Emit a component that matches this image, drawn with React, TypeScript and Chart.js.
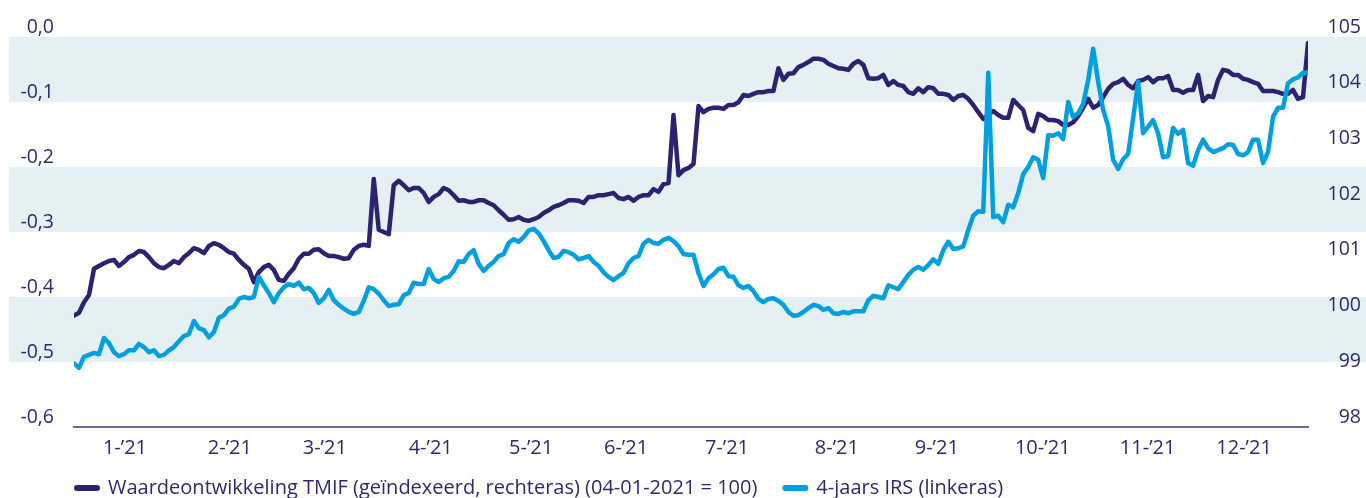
import React, { useEffect, useRef } from "react";
import { Chart, registerables } from "chart.js";

Chart.register(...registerables);

const TMIF_LABEL = "Waardeontwikkeling TMIF (geïndexeerd, rechteras) (04-01-2021 = 100)";
const IRS_LABEL = "4-jaars IRS (linkeras)";

const MONTH_LABELS = ["1-’21", "2-’21", "3-’21", "4-’21", "5-’21", "6-’21", "7-’21", "8-’21", "9-’21", "10-’21", "11-’21", "12-’21"];
// sample index under each month label
const MONTH_TICK_INDEX = [10.2, 31.2, 50.2, 71.4, 91.5, 110.5, 130.7, 152.7, 172.7, 193.9, 214.9, 234.2];

const BAND_RANGES = [[0, -0.1], [-0.2, -0.3], [-0.4, -0.5]];

// Waardeontwikkeling TMIF (right axis)
const TMIF = [
  100.00, 100.05, 100.24, 100.37, 100.84, 100.89, 100.94, 100.98, 101.00, 100.89,
  100.96, 101.05, 101.09, 101.16, 101.14, 101.05, 100.94, 100.87, 100.85, 100.91,
  100.98, 100.94, 101.05, 101.12, 101.21, 101.18, 101.12, 101.25, 101.30, 101.27,
  101.21, 101.14, 101.11, 101.00, 100.91, 100.84, 100.60, 100.78, 100.87, 100.91,
  100.82, 100.64, 100.62, 100.75, 100.85, 101.02, 101.11, 101.11, 101.18, 101.19,
  101.12, 101.07, 101.07, 101.05, 101.02, 101.03, 101.18, 101.25, 101.27, 101.25,
  102.45, 101.54, 101.50, 101.46, 102.34, 102.42, 102.34, 102.25, 102.29, 102.29,
  102.20, 102.04, 102.13, 102.18, 102.29, 102.25, 102.16, 102.06, 102.07, 102.04,
  102.04, 102.07, 102.07, 102.02, 101.98, 101.89, 101.81, 101.72, 101.73, 101.77,
  101.72, 101.70, 101.73, 101.77, 101.84, 101.89, 101.95, 101.98, 102.02, 102.07,
  102.07, 102.06, 102.02, 102.13, 102.13, 102.16, 102.16, 102.18, 102.20, 102.11,
  102.09, 102.13, 102.06, 102.13, 102.16, 102.16, 102.27, 102.22, 102.36, 102.38,
  103.60, 102.52, 102.61, 102.65, 102.72, 103.76, 103.65, 103.71, 103.73, 103.73,
  103.71, 103.78, 103.78, 103.83, 103.96, 103.94, 103.98, 104.01, 104.01, 104.03,
  104.03, 104.44, 104.23, 104.34, 104.35, 104.46, 104.50, 104.55, 104.61, 104.61,
  104.59, 104.52, 104.48, 104.44, 104.43, 104.41, 104.52, 104.57, 104.50, 104.26,
  104.25, 104.26, 104.32, 104.14, 104.21, 104.14, 104.12, 104.01, 103.98, 104.08,
  104.01, 104.10, 104.08, 103.98, 103.98, 103.96, 103.87, 103.94, 103.96, 103.89,
  103.78, 103.65, 103.53, 103.60, 103.67, 103.60, 103.55, 103.55, 103.87, 103.78,
  103.69, 103.37, 103.31, 103.62, 103.58, 103.51, 103.51, 103.49, 103.42, 103.42,
  103.47, 103.58, 103.73, 103.89, 103.73, 103.78, 103.92, 104.07, 104.16, 104.19,
  104.25, 104.14, 104.08, 104.21, 104.23, 104.28, 104.19, 104.26, 104.26, 104.30,
  104.05, 104.05, 104.00, 104.05, 104.05, 104.32, 103.85, 103.94, 103.92, 104.23,
  104.41, 104.39, 104.32, 104.32, 104.25, 104.23, 104.19, 104.16, 104.03, 104.03,
  104.03, 104.01, 103.98, 103.98, 104.05, 103.89, 103.92, 104.89,
];

// 4-jaars IRS (left axis)
const IRS = [
  -0.502, -0.509, -0.492, -0.489, -0.486, -0.488, -0.463, -0.471, -0.485, -0.491,
  -0.488, -0.482, -0.482, -0.472, -0.477, -0.485, -0.482, -0.491, -0.489, -0.482,
  -0.477, -0.468, -0.460, -0.457, -0.437, -0.448, -0.451, -0.462, -0.454, -0.432,
  -0.428, -0.418, -0.415, -0.403, -0.400, -0.402, -0.400, -0.369, -0.382, -0.394,
  -0.408, -0.394, -0.385, -0.380, -0.383, -0.378, -0.388, -0.386, -0.394, -0.409,
  -0.402, -0.389, -0.405, -0.412, -0.418, -0.423, -0.426, -0.423, -0.406, -0.385,
  -0.388, -0.395, -0.405, -0.414, -0.412, -0.411, -0.397, -0.394, -0.378, -0.380,
  -0.380, -0.357, -0.372, -0.377, -0.371, -0.369, -0.360, -0.345, -0.346, -0.334,
  -0.328, -0.349, -0.360, -0.352, -0.346, -0.337, -0.334, -0.317, -0.311, -0.315,
  -0.308, -0.298, -0.295, -0.302, -0.314, -0.328, -0.340, -0.338, -0.329, -0.331,
  -0.335, -0.342, -0.340, -0.337, -0.346, -0.352, -0.362, -0.369, -0.374, -0.368,
  -0.363, -0.348, -0.340, -0.337, -0.318, -0.312, -0.317, -0.318, -0.312, -0.309,
  -0.314, -0.322, -0.334, -0.335, -0.335, -0.363, -0.383, -0.371, -0.365, -0.357,
  -0.355, -0.368, -0.369, -0.382, -0.386, -0.383, -0.391, -0.403, -0.408, -0.403,
  -0.402, -0.406, -0.412, -0.423, -0.429, -0.428, -0.423, -0.417, -0.412, -0.414,
  -0.420, -0.417, -0.425, -0.426, -0.423, -0.425, -0.422, -0.422, -0.422, -0.405,
  -0.398, -0.400, -0.402, -0.382, -0.385, -0.388, -0.377, -0.366, -0.358, -0.354,
  -0.358, -0.351, -0.342, -0.349, -0.328, -0.315, -0.326, -0.325, -0.322, -0.297,
  -0.275, -0.268, -0.269, -0.055, -0.277, -0.275, -0.285, -0.258, -0.262, -0.240,
  -0.211, -0.200, -0.185, -0.189, -0.217, -0.151, -0.152, -0.148, -0.157, -0.100,
  -0.123, -0.117, -0.103, -0.066, -0.018, -0.069, -0.112, -0.137, -0.189, -0.203,
  -0.188, -0.180, -0.125, -0.069, -0.148, -0.138, -0.128, -0.148, -0.185, -0.183,
  -0.140, -0.149, -0.143, -0.194, -0.198, -0.174, -0.158, -0.171, -0.177, -0.174,
  -0.171, -0.165, -0.166, -0.180, -0.182, -0.177, -0.158, -0.158, -0.194, -0.177,
  -0.123, -0.109, -0.109, -0.071, -0.065, -0.062, -0.055, -0.055,
];

const TEXT = "#2d2a6b";
const DARK = "#2b2270";
const LIGHT = "#009fe0";
const BAND = "#e4f0f2";
const AXIS = "#6d6894";
const FONT = "'Open Sans'";

const bandsPlugin = {
  id: "bands",
  beforeDraw(chart: any) {
    const y = chart.scales.y;
    const ctx = chart.ctx;
    ctx.save();
    ctx.fillStyle = BAND;
    for (const [a, b] of BAND_RANGES) {
      const p1 = y.getPixelForValue(a);
      const p2 = y.getPixelForValue(b);
      ctx.fillRect(9, Math.min(p1, p2), chart.width - 9, Math.abs(p2 - p1));
    }
    ctx.restore();
  },
};

// legend drawn from the datasets' own labels and colours
const lineLegendPlugin = {
  id: "lineLegend",
  afterDraw(chart: any) {
    const ctx = chart.ctx;
    const x0 = chart.chartArea.left;
    const y = 488;
    ctx.save();
    ctx.font = `20px ${FONT}`;
    ctx.textBaseline = "middle";
    ctx.textAlign = "left";
    let x = x0;
    chart.data.datasets.forEach((ds: any) => {
      ctx.strokeStyle = ds.borderColor;
      ctx.lineWidth = 6;
      ctx.lineCap = "round";
      ctx.beginPath();
      ctx.moveTo(x + 3, y);
      ctx.lineTo(x + 23, y);
      ctx.stroke();
      ctx.fillStyle = TEXT;
      ctx.fillText(ds.label, x + 34, y);
      x += 34 + ctx.measureText(ds.label).width + 25;
    });
    ctx.restore();
  },
};

export default function App() {
  const ref = useRef<HTMLCanvasElement>(null);

  useEffect(() => {
    const chart = new Chart(ref.current as HTMLCanvasElement, {
      type: "line",
      data: {
        datasets: [
          {
            label: TMIF_LABEL,
            data: TMIF.map((y, i) => ({ x: i, y })),
            yAxisID: "y1",
            borderColor: DARK,
            backgroundColor: DARK,
            borderWidth: 4.5,
            pointRadius: 0,
            tension: 0,
            order: 2,
            borderJoinStyle: "round",
            borderCapStyle: "round",
          },
          {
            label: IRS_LABEL,
            data: IRS.map((y, i) => ({ x: i, y })),
            yAxisID: "y",
            borderColor: LIGHT,
            backgroundColor: LIGHT,
            borderWidth: 4.5,
            pointRadius: 0,
            tension: 0,
            order: 1,
            borderJoinStyle: "round",
            borderCapStyle: "round",
          },
        ],
      } as any,
      options: {
        animation: false,
        responsive: true,
        maintainAspectRatio: false,
        events: [],
        layout: { padding: { left: 9, right: 5, top: 37, bottom: 36 } },
        scales: {
          x: {
            type: "linear",
            min: 0,
            max: TMIF.length - 1,
            grid: { display: false, drawTicks: false },
            border: { display: true, color: AXIS, width: 2 },
            ticks: {
              autoSkip: false,
              maxRotation: 0,
              padding: 9,
              color: TEXT,
              font: { family: FONT, size: 20 },
              callback: (_v: any, i: number) => MONTH_LABELS[i] ?? "",
            },
            afterBuildTicks: (s: any) => {
              s.ticks = MONTH_TICK_INDEX.map((value) => ({ value }));
            },
            afterFit: (s: any) => {
              s.height = 35;
            },
          },
          y: {
            position: "left",
            min: -0.6,
            max: 0,
            grid: { display: false, drawTicks: false },
            border: { display: false },
            ticks: {
              stepSize: 0.1,
              padding: 20,
              labelOffset: -10,
              color: TEXT,
              font: { family: FONT, size: 19.5 },
              callback: (v: any) => Number(v).toFixed(1).replace(".", ","),
            },
            afterFit: (s: any) => {
              s.width = 65;
            },
          },
          y1: {
            position: "right",
            min: 98,
            max: 105,
            grid: { display: false, drawTicks: false },
            border: { display: false },
            ticks: {
              stepSize: 1,
              padding: 20,
              crossAlign: "far",
              labelOffset: -10,
              color: TEXT,
              font: { family: FONT, size: 19.5 },
              callback: (v: any) => String(v),
            },
            afterFit: (s: any) => {
              s.width = 53;
            },
          },
        } as any,
        plugins: {
          tooltip: { enabled: false },
          legend: { display: false },
        },
      } as any,
      plugins: [bandsPlugin, lineLegendPlugin],
    });
    return () => chart.destroy();
  }, []);

  return (
    <div style={{ position: "absolute", left: 0, top: 0, width: 1366, height: 498 }}>
      <canvas ref={ref} />
    </div>
  );
}
